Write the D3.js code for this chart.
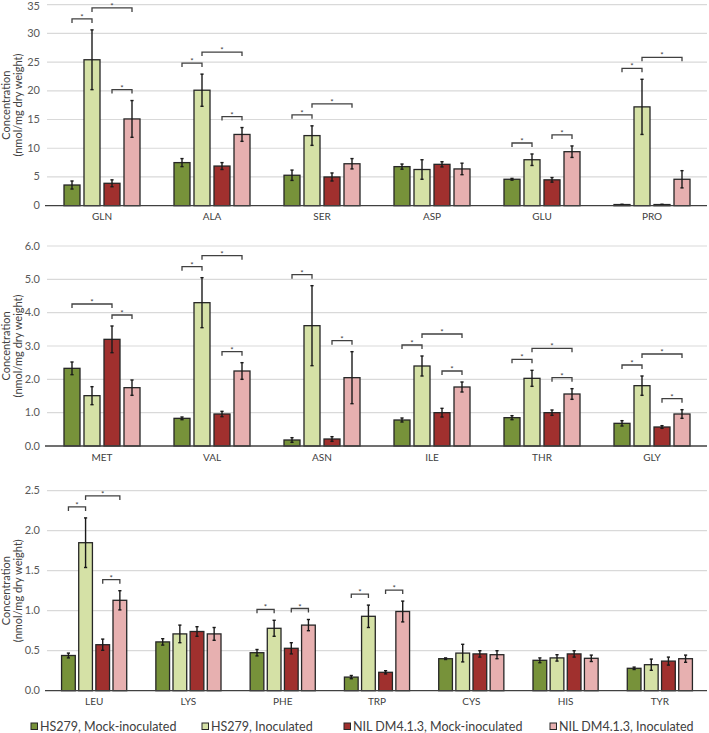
<!DOCTYPE html>
<html>
<head>
<meta charset="utf-8">
<script src="https://cdn.jsdelivr.net/npm/d3@7"></script>
<style>
  html, body { margin: 0; padding: 0; background: #fff; }
  svg { display: block; }
  text { font-family: Lato, "Open Sans", "Liberation Sans", sans-serif; }
</style>
</head>
<body>
<svg id="chart" width="709" height="733"></svg>
<script>
// ---------------- DATA ----------------
const seriesNames = ["HS279, Mock-inoculated", "HS279, Inoculated", "NIL DM4.1.3, Mock-inoculated", "NIL DM4.1.3, Inoculated"];
const seriesColors = ["#77923A", "#D5E1A6", "#A0302E", "#E7B0B0"];

// Panel 1
const p1Categories = ["GLN", "ALA", "SER", "ASP", "GLU", "PRO"];
const p1Means = [
  [3.6, 7.5, 5.3, 6.8, 4.6, 0.2],
  [25.4, 20.1, 12.2, 6.3, 8.0, 17.2],
  [3.9, 6.9, 5.0, 7.2, 4.5, 0.2],
  [15.1, 12.4, 7.3, 6.4, 9.4, 4.6]
];
const p1Errors = [
  [0.7, 0.7, 0.9, 0.45, 0.15, 0.05],
  [5.2, 2.8, 1.7, 1.7, 1.0, 4.8],
  [0.6, 0.6, 0.7, 0.45, 0.4, 0.05],
  [3.2, 1.2, 0.9, 1.0, 1.0, 1.5]
];
const p1Ticks = [0, 5, 10, 15, 20, 25, 30, 35];
const p1Sig = [[0,0,1],[0,1,3],[0,2,3],[1,0,1],[1,1,3],[1,2,3],[2,0,1],[2,1,3],[4,0,1],[4,2,3],[5,0,1],[5,1,3]];

// Panel 2
const p2Categories = ["MET", "VAL", "ASN", "ILE", "THR", "GLY"];
const p2Means = [
  [2.33, 0.83, 0.18, 0.78, 0.85, 0.68],
  [1.51, 4.3, 3.61, 2.4, 2.03, 1.81],
  [3.2, 0.96, 0.21, 1.0, 1.0, 0.57],
  [1.75, 2.25, 2.05, 1.77, 1.56, 0.96]
];
const p2Errors = [
  [0.19, 0.04, 0.07, 0.06, 0.06, 0.08],
  [0.27, 0.75, 1.2, 0.3, 0.24, 0.29],
  [0.4, 0.08, 0.07, 0.13, 0.08, 0.04],
  [0.23, 0.25, 0.78, 0.15, 0.16, 0.13]
];
const p2Ticks = [0, 1, 2, 3, 4, 5, 6];
const p2Sig = [[0,0,2],[0,2,3],[1,0,1],[1,1,3],[1,2,3],[2,0,1],[2,2,3],[3,0,1],[3,1,3],[3,2,3],[4,0,1],[4,1,3],[4,2,3],[5,0,1],[5,1,3],[5,2,3]];

// Panel 3
const p3Categories = ["LEU", "LYS", "PHE", "TRP", "CYS", "HIS", "TYR"];
const p3Means = [
  [0.44, 0.61, 0.475, 0.17, 0.40, 0.38, 0.28],
  [1.85, 0.71, 0.78, 0.93, 0.47, 0.41, 0.325],
  [0.575, 0.74, 0.53, 0.23, 0.46, 0.46, 0.37],
  [1.13, 0.71, 0.82, 0.99, 0.45, 0.405, 0.40]
];
const p3Errors = [
  [0.03, 0.04, 0.04, 0.02, 0.01, 0.03, 0.015],
  [0.31, 0.11, 0.10, 0.14, 0.11, 0.04, 0.07],
  [0.07, 0.06, 0.07, 0.02, 0.04, 0.04, 0.05],
  [0.12, 0.08, 0.07, 0.13, 0.05, 0.04, 0.045]
];
const p3Ticks = [0, 0.5, 1.0, 1.5, 2.0, 2.5];
const p3Sig = [[0,0,1],[0,1,3],[0,2,3],[2,0,1],[2,2,3],[3,0,1],[3,2,3]];

const yTitle1 = "Concentration";
const yTitle2 = "(nmol/mg dry weight)";

// ---------------- LAYOUT ----------------
const svg = d3.select("#chart");
const xLeft = 47, xRight = 707;

const panels = [
  { cats: p1Categories, means: p1Means, errs: p1Errors, ticks: p1Ticks, sig: p1Sig, fmt: d3.format("d"),   top: 4.6,   bottom: 205.7, labelY: 220 },
  { cats: p2Categories, means: p2Means, errs: p2Errors, ticks: p2Ticks, sig: p2Sig, fmt: d3.format(".1f"), top: 246,   bottom: 446,   labelY: 460.5 },
  { cats: p3Categories, means: p3Means, errs: p3Errors, ticks: p3Ticks, sig: p3Sig, fmt: d3.format(".1f"), top: 490.7, bottom: 690.7, labelY: 705 }
];

panels.forEach(p => {
  const g = svg.append("g");
  const yMax = p.ticks[p.ticks.length - 1];
  const y = d3.scaleLinear().domain([0, yMax]).range([p.bottom, p.top]);
  const x0 = d3.scaleBand().domain(p.cats).range([xLeft, xRight]).padding(0);
  const x1 = d3.scaleBand().domain(d3.range(4)).range([0, x0.bandwidth()]).paddingInner(0.2).paddingOuter(0.85);

  // gridlines
  g.append("g").selectAll("line").data(p.ticks.filter(t => t > 0)).join("line")
    .attr("x1", xLeft).attr("x2", xRight)
    .attr("y1", d => y(d)).attr("y2", d => y(d))
    .attr("stroke", "#D9D9D9").attr("stroke-width", 1.2);

  // y tick labels
  g.append("g").selectAll("text").data(p.ticks).join("text")
    .attr("x", 40).attr("y", d => Math.max(y(d), 6)).attr("dy", "0.32em")
    .attr("text-anchor", "end").attr("font-size", 11).attr("fill", "#595959")
    .text(d => p.fmt(d));

  // y axis title
  const cy = (p.top + p.bottom) / 2;
  g.append("text").attr("transform", `translate(10,${cy}) rotate(-90)`)
    .attr("text-anchor", "middle").attr("font-size", 11).attr("fill", "#404040").text(yTitle1);
  g.append("text").attr("transform", `translate(22,${cy}) rotate(-90)`)
    .attr("text-anchor", "middle").attr("font-size", 11).attr("fill", "#404040").text(yTitle2);

  // bars
  const rows = [];
  p.cats.forEach((c, ci) => {
    for (let s = 0; s < 4; s++) rows.push({ c, ci, s, v: p.means[s][ci], e: p.errs[s][ci] });
  });
  const bx = d => x0(d.c) + x1(d.s);
  g.append("g").selectAll("rect").data(rows).join("rect")
    .attr("x", d => bx(d)).attr("width", x1.bandwidth())
    .attr("y", d => y(d.v)).attr("height", d => y(0) - y(d.v))
    .attr("fill", d => seriesColors[d.s])
    .attr("stroke", "#262626").attr("stroke-width", 1.3);

  // error bars
  const eg = g.append("g").attr("stroke", "#1a1a1a").attr("stroke-width", 1.4);
  rows.forEach(d => {
    const cx = bx(d) + x1.bandwidth() / 2;
    const yt = y(d.v + d.e), yb = y(Math.max(0, d.v - d.e));
    eg.append("line").attr("x1", cx).attr("x2", cx).attr("y1", yt).attr("y2", yb);
    eg.append("line").attr("x1", cx - 1.6).attr("x2", cx + 1.6).attr("y1", yt).attr("y2", yt);
    eg.append("line").attr("x1", cx - 1.6).attr("x2", cx + 1.6).attr("y1", yb).attr("y2", yb);
  });

  // baseline
  g.append("line").attr("x1", xLeft - 2).attr("x2", xRight).attr("y1", y(0)).attr("y2", y(0))
    .attr("stroke", "#404040").attr("stroke-width", 1.3);

  // category labels
  g.append("g").selectAll("text").data(p.cats).join("text")
    .attr("x", d => x0(d) + x0.bandwidth() / 2).attr("y", p.labelY)
    .attr("text-anchor", "middle").attr("font-size", 10).attr("fill", "#404040")
    .text(d => d);

  // significance brackets
  const bg = g.append("g");
  p.sig.forEach(([ci, i, j]) => {
    const c = p.cats[ci];
    let top = 0;
    for (let s = i; s <= j; s++) top = Math.max(top, p.means[s][ci] + p.errs[s][ci]);
    const level = (j - i > 1) ? 2 : 1;
    const yy = y(top) - 11 * level;
    const xa = x0(c) + x1(i) + x1.bandwidth() / 2;
    const xb = x0(c) + x1(j) + x1.bandwidth() / 2;
    bg.append("path")
      .attr("d", `M${xa},${yy + 4}V${yy}H${xb}V${yy + 4}`)
      .attr("fill", "none").attr("stroke", "#404040").attr("stroke-width", 1.3);
    bg.append("text").attr("x", (xa + xb) / 2).attr("y", yy + 1)
      .attr("text-anchor", "middle").attr("font-size", 8).attr("fill", "#404040").text("*");
  });
});

// legend
const legendX = [31, 202, 344, 550];
const lg = svg.append("g");
seriesNames.forEach((n, i) => {
  lg.append("rect").attr("x", legendX[i]).attr("y", 723).attr("width", 6.5).attr("height", 6.5)
    .attr("fill", seriesColors[i]).attr("stroke", "#262626").attr("stroke-width", 1);
  lg.append("text").attr("x", legendX[i] + 9).attr("y", 726.5).attr("dy", "0.35em")
    .attr("font-size", 12.5).attr("fill", "#404040").text(n);
});
</script>
</body>
</html>
